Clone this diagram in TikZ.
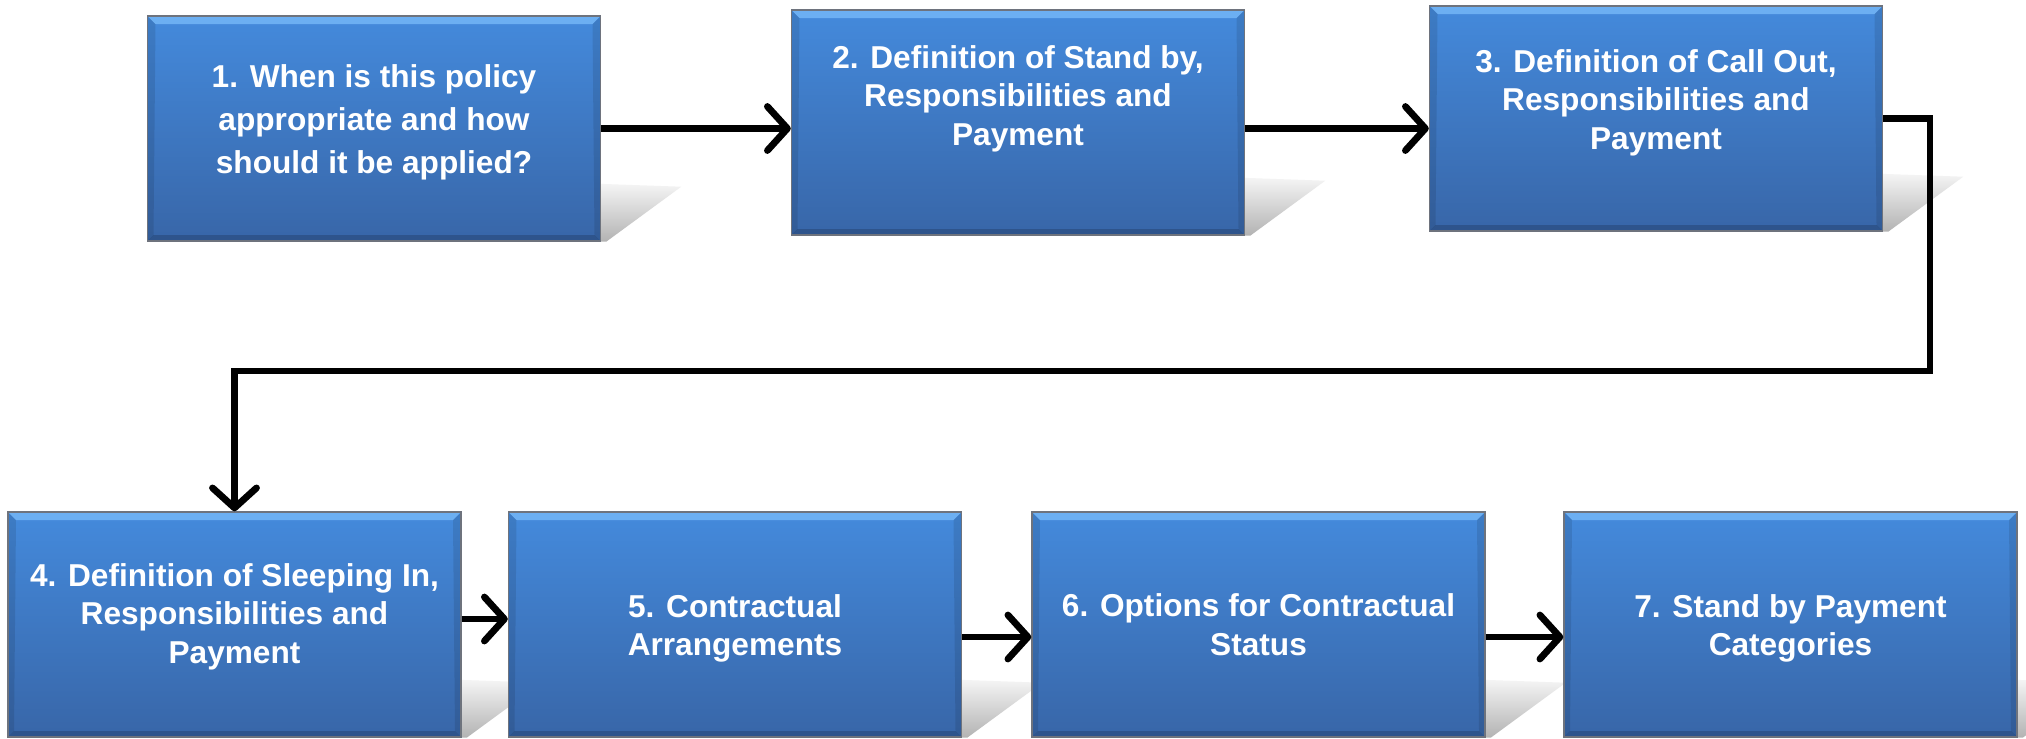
\documentclass[tikz,border=0pt]{standalone}
\usepackage{fontspec}
\setsansfont{Liberation Sans}
\usetikzlibrary{arrows.meta,backgrounds}
\definecolor{boxtop}{RGB}{68,138,220}
\definecolor{boxbot}{RGB}{56,102,168}
\definecolor{bevellight}{RGB}{108,175,242}
\definecolor{beveldark}{RGB}{46,84,140}
\definecolor{boxline}{RGB}{110,115,125}
\tikzset{
  stepbox/.style={draw=boxline, line width=0.4pt, top color=boxtop, bottom color=boxbot,
    minimum width=4.53cm, minimum height=2.25cm, inner sep=0pt,
    path picture={
      \coordinate (nw) at (path picture bounding box.north west);
      \coordinate (ne) at (path picture bounding box.north east);
      \coordinate (sw) at (path picture bounding box.south west);
      \coordinate (se) at (path picture bounding box.south east);
      \fill [bevellight] (nw) -- (ne) -- ([xshift=-0.08cm,yshift=-0.08cm]ne) -- ([xshift=0.08cm,yshift=-0.08cm]nw) -- cycle;
      \fill [beveldark] (sw) -- (se) -- ([xshift=-0.06cm,yshift=0.06cm]se) -- ([xshift=0.06cm,yshift=0.06cm]sw) -- cycle;
      \fill [black, opacity=0.1] (nw) -- ([xshift=0.08cm,yshift=-0.08cm]nw) -- ([xshift=0.06cm,yshift=0.06cm]sw) -- (sw) -- cycle;
      \fill [black, opacity=0.1] (ne) -- ([xshift=-0.08cm,yshift=-0.08cm]ne) -- ([xshift=-0.06cm,yshift=0.06cm]se) -- (se) -- cycle;
    }},
  steptext/.style={text=white, font=\sffamily\bfseries\fontsize{9}{11}\selectfont, align=center},
  flow/.style={black, line width=0.068cm, -{Straight Barb[length=0.2cm,width=0.44cm,round]}}
}

\begin{document}
\begin{tikzpicture}
      \useasboundingbox (0,0) rectangle (20.26,-7.38);
      \node [stepbox] (b1) at (3.74,-1.285) {};
      \node [steptext, font=\sffamily\bfseries\fontsize{9}{12.3}\selectfont] (t1) at ([yshift=0.06cm]b1.center) {1. When is this policy\\appropriate and how\\should it be applied?};
      \node [stepbox] (b2) at (10.18,-1.225) {};
      \node [steptext] (t2) at ([yshift=0.24cm]b2.center) {2. Definition of Stand by,\\Responsibilities and\\Payment};
      \node [stepbox] (b3) at (16.56,-1.185) {};
      \node [steptext] (t3) at ([yshift=0.16cm]b3.center) {3. Definition of Call Out,\\Responsibilities and\\Payment};
      \node [stepbox] (b4) at (2.345,-6.245) {};
      \node [steptext] (t4) at ([yshift=0.08cm]b4.center) {4. Definition of Sleeping In,\\Responsibilities and\\Payment};
      \node [stepbox] (b5) at (7.35,-6.245) {};
      \node [steptext] (t5) at ([yshift=-0.04cm]b5.center) {5. Contractual\\Arrangements};
      \node [stepbox] (b6) at (12.585,-6.245) {};
      \node [steptext] (t6) at (b6.center) {6. Options for Contractual\\Status};
      \node [stepbox] (b7) at (17.905,-6.245) {};
      \node [steptext] (t7) at ([yshift=-0.04cm]b7.center) {7. Stand by Payment\\Categories};
      \begin{scope}[on background layer]
        \fill [white] (0,0) rectangle (20.26,-7.38);
        \foreach \b in {b1,b2,b3,b4,b5,b6,b7}
          \shade [top color=black!4, bottom color=black!30] ([xshift=-0.05cm]\b.south east) -- ([xshift=-0.05cm,yshift=0.58cm]\b.south east) -- ([xshift=0.8cm,yshift=0.55cm]\b.south east) -- ([xshift=0.05cm]\b.south east) -- cycle;
      \end{scope}
      \coordinate (turn) at (19.30,-3.71);
      \draw [flow] (b1.east) -- (b1.east -| b2.west);
      \draw [flow] (b2.east |- b1.east) -- (b3.west |- b1.east);
      \draw [flow] (b3.east) -| (turn) -| (b4.north);
      \draw [flow] ([yshift=0.055cm]b4.east) -- ([yshift=0.055cm]b5.west);
      \draw [flow] ([yshift=-0.125cm]b5.east) -- ([yshift=-0.125cm]b6.west);
      \draw [flow] ([yshift=-0.125cm]b6.east) -- ([yshift=-0.125cm]b7.west);
\end{tikzpicture}
\end{document}
